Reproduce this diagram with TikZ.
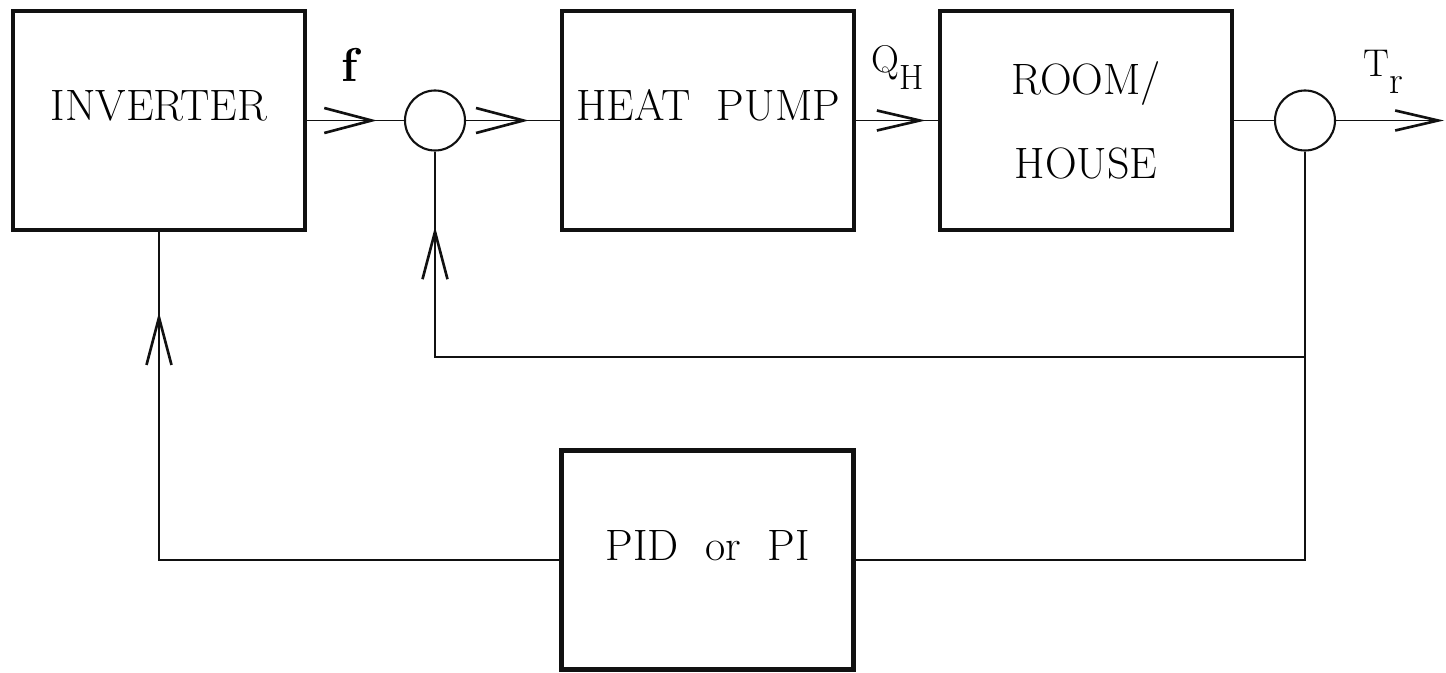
\documentclass[tikz,border=0pt]{standalone}
\usetikzlibrary{arrows.meta, decorations.markings}
\definecolor{blkLine}{HTML}{111111}
\tikzset{
  loopfig/.style={
    every node/.append style={font=\fontsize{25}{30}\selectfont},
  },
  blockbox/.style={
    draw=blkLine, line width=2.6pt, align=center, inner sep=0pt,
    minimum width=5.84cm, minimum height=4.38cm,
  },
  % Grundlinie des Textes liegt auf der Signalhoehe (Kastenmitte).
  blocktxt/.style={blockbox, text height=18pt, text depth=18pt},
  sumnode/.style={draw=blkLine, circle, line width=1.2pt, minimum size=1.2cm, inner sep=0pt},
  sig/.style={draw=blkLine, line width=1.1pt},
  sigtip/.tip={Straight Barb[length=0.95cm, width=0.5cm, line width=1.5pt]},
  smalltip/.tip={Straight Barb[length=0.86cm, width=0.4cm, line width=1.5pt]},
  tipat/.style={sig, postaction={decorate},
    decoration={markings, mark=at position #1 with {\arrow{sigtip}}}},
  siglabel/.style={font=\fontsize{22}{26}\selectfont, inner sep=0pt},
}
\begin{document}
\begin{tikzpicture}[loopfig]
  \useasboundingbox (0,0) rectangle (28.92,13.44);
  \node[blocktxt] (Inverter) at (3.18,11.03) {INVERTER};
  \node[blocktxt] (HeatPump) at (14.16,11.03) {HEAT~~PUMP};
  \node[blockbox] (RoomHouse) at (21.72,11.03) {ROOM/\\[18pt]HOUSE};
  \node[blocktxt] (Controller) at (14.15,2.24) {PID~~or~~PI};
  \node[sumnode] (SumIn) at (8.7,11.03) {};
  \node[sumnode] (SumOut) at (26.1,11.03) {};
  \coordinate (FbSplit) at (26.1,6.3);
  \coordinate (TrOut) at (28.88,11.03);
  \draw[tipat=-0.54cm] (Inverter.east) -- (SumIn.west);
  \draw[tipat=-0.62cm] (SumIn.east) -- (HeatPump.west);
  \draw[sig, line width=0.7pt, postaction={decorate},
    decoration={markings, mark=at position -0.24cm with {\arrow{smalltip}}}]
    (HeatPump.east) -- (RoomHouse.west);
  \draw[sig] (RoomHouse.east) -- (SumOut.west);
  \draw[sig, -{smalltip}] (SumOut.east) -- (TrOut);
  \draw[sig] (SumOut.south) |- (Controller.east);
  \draw[tipat=-1.5cm] (FbSplit) -| (SumIn.south);
  \draw[tipat=-1.6cm] (Controller.west) -| (Inverter.south);
  \node[siglabel] (LblF) at (7.04,12.15) {\fontsize{27}{30}\selectfont\textbf{f}};
  \node[siglabel] (LblQ) at (17.96,12.09) {Q\raisebox{-0.45em}{\fontsize{20}{22}\selectfont H}};
  \node[siglabel] (LblT) at (27.66,12.0) {T\raisebox{-0.45em}{\fontsize{22}{24}\selectfont r}};
\end{tikzpicture}
\end{document}
